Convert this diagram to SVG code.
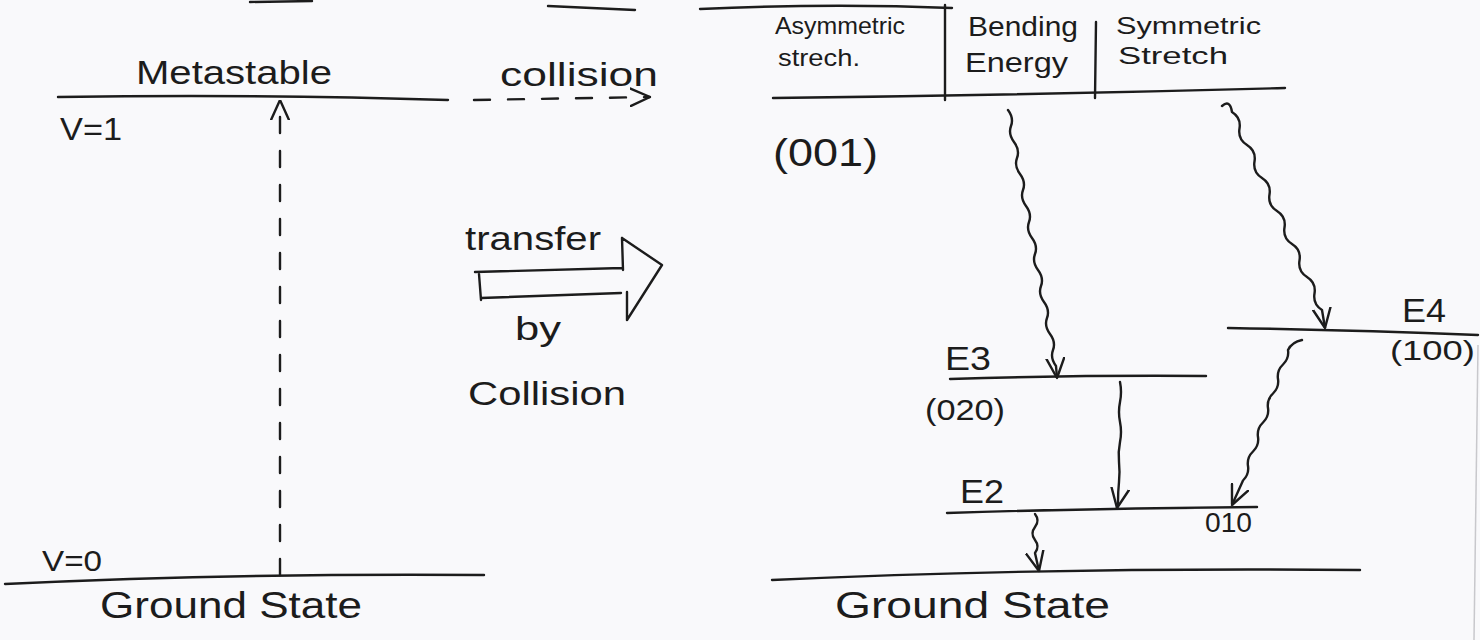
<svg xmlns="http://www.w3.org/2000/svg" width="1480" height="640" viewBox="0 0 1480 640">
<style>
.bg{fill:#f9f9fb}
.ln{fill:none;stroke:#1c1c1c;stroke-width:2.4;stroke-linecap:round;stroke-linejoin:round}
.dash{stroke-dasharray:16 18}
.t{font-family:"Liberation Sans","DejaVu Sans",sans-serif;fill:#1c1c1c}
.edge{fill:none;stroke:#c8c8cc;stroke-width:1.5}
</style>
<defs>
<marker id="ah" viewBox="0 0 10 10" refX="10" refY="5" markerWidth="20" markerHeight="20" markerUnits="userSpaceOnUse" orient="auto">
<path d="M0,0.5 L10,5 L0,9.5" fill="none" stroke="#1c1c1c" stroke-width="1.2" stroke-dasharray="none" stroke-linecap="round" stroke-linejoin="round"/>
</marker>
</defs>
<rect class="bg" x="0" y="0" width="1480" height="640"/>

<g id="top-fragments">
<path class="ln" d="M250,2 L312,1"/>
<path class="ln" d="M548,6 Q590,8 635,10"/>
<path class="ln" d="M700,9 Q830,3 952,8"/>
<path class="edge" d="M1478,345 L1474,640"/>
</g>

<g id="metastable-level">
<path class="ln" d="M58,97 Q260,94 448,100"/>
<text class="t" x="136" y="84" font-size="34" textLength="196" lengthAdjust="spacingAndGlyphs">Metastable</text>
<text class="t" x="60" y="140" font-size="32" textLength="62" lengthAdjust="spacingAndGlyphs">V=1</text>
</g>

<g id="ground-left">
<path class="ln" d="M5,584 Q240,573 484,575"/>
<text class="t" x="42" y="571" font-size="30" textLength="60" lengthAdjust="spacingAndGlyphs">V=0</text>
<text class="t" x="100" y="618" font-size="36" textLength="262" lengthAdjust="spacingAndGlyphs">Ground State</text>
</g>

<g id="collision-label">
<text class="t" x="500" y="86" font-size="34" textLength="158" lengthAdjust="spacingAndGlyphs">collision</text>
</g>

<g id="transfer-arrow">
<path class="ln" d="M475,272 L622,268 M481,298 L621,293 M479,274 L481,300 M622,238 L623,270 M627,292 L627,320 M622,238 L662,265 L627,320"/>
<text class="t" x="465" y="250" font-size="34" textLength="136" lengthAdjust="spacingAndGlyphs">transfer</text>
<text class="t" x="515" y="340" font-size="34" textLength="46" lengthAdjust="spacingAndGlyphs">by</text>
<text class="t" x="468" y="405" font-size="34" textLength="158" lengthAdjust="spacingAndGlyphs">Collision</text>
</g>

<g id="header-table">
<path class="ln" d="M773,98 Q1030,95 1285,88"/>
<path class="ln" d="M945,5 L945,100 M1096,22 L1095,98"/>
<text class="t" x="775" y="34" font-size="24" textLength="130" lengthAdjust="spacingAndGlyphs">Asymmetric</text>
<text class="t" x="778" y="66" font-size="24" textLength="82" lengthAdjust="spacingAndGlyphs">strech.</text>
<text class="t" x="968" y="36" font-size="28" textLength="110" lengthAdjust="spacingAndGlyphs">Bending</text>
<text class="t" x="965" y="72" font-size="28" textLength="103" lengthAdjust="spacingAndGlyphs">Energy</text>
<text class="t" x="1116" y="34" font-size="24" textLength="145" lengthAdjust="spacingAndGlyphs">Symmetric</text>
<text class="t" x="1118" y="64" font-size="24" textLength="110" lengthAdjust="spacingAndGlyphs">Stretch</text>
<text class="t" x="773" y="166" font-size="38" textLength="105" lengthAdjust="spacingAndGlyphs">(001)</text>
</g>

<g id="level-E4">
<path class="ln" d="M1228,328 Q1350,330 1478,335"/>
<text class="t" x="1402" y="322" font-size="34" textLength="44" lengthAdjust="spacingAndGlyphs">E4</text>
<text class="t" x="1390" y="360" font-size="28" textLength="85" lengthAdjust="spacingAndGlyphs">(100)</text>
</g>

<g id="level-E3">
<path class="ln" d="M950,379 Q1080,375 1206,376"/>
<text class="t" x="945" y="370" font-size="34" textLength="46" lengthAdjust="spacingAndGlyphs">E3</text>
<text class="t" x="925" y="420" font-size="30" textLength="80" lengthAdjust="spacingAndGlyphs">(020)</text>
</g>

<g id="level-E2">
<path class="ln" d="M947,513 Q1100,508 1257,507"/>
<text class="t" x="960" y="503" font-size="34" textLength="44" lengthAdjust="spacingAndGlyphs">E2</text>
<text class="t" x="1205" y="532" font-size="28" textLength="47" lengthAdjust="spacingAndGlyphs">010</text>
</g>

<g id="ground-right">
<path class="ln" d="M772,580 Q1060,567 1360,570"/>
<text class="t" x="835" y="618" font-size="36" textLength="275" lengthAdjust="spacingAndGlyphs">Ground State</text>
</g>

<g id="connectors">
<path class="ln dash" d="M280,575 L280,100" marker-end="url(#ah)"/>
<path class="ln dash" d="M474,100 L650,97" marker-end="url(#ah)"/>
<path class="ln" d="M1008,110 q6,8 3,16 t3,16 t3,16 t3,16 t3,16 t3,16 t3,16 t3,16 t3,16 t3,16 t3,16 t3,16 t3,16 t3,16 t3,16 t3,16 L1057,378" marker-end="url(#ah)"/>
<path class="ln" d="M1222,106 q8,-7 10,6 q9.25,5.75 7.5,16.5 t7.5,16.5 t7.5,16.5 t7.5,16.5 t7.5,16.5 t7.5,16.5 t7.5,16.5 t7.5,16.5 t7.5,16.5 t7.5,16.5 t7.5,16.5 t7.5,16.5 L1325,328" marker-end="url(#ah)"/>
<path class="ln" d="M1120,382 q2,10 0,20 t0,20 t0,20 t-1,20 t0,20 t-1,20 L1117,508" marker-end="url(#ah)"/>
<path class="ln" d="M1302,340 q-10,2 -14,10 q1.3,8.5 -5,14.5 t-5,14.5 t-5,14.5 t-5,14.5 t-5,14.5 t-5,14.5 t-5,14.5 t-5,14.5 t-5,14.5 L1232,505" marker-end="url(#ah)"/>
<path class="ln" d="M1035,514 q5,6.5 0,13 t0,13 t0,13 L1039,571" marker-end="url(#ah)"/>
</g>
</svg>
